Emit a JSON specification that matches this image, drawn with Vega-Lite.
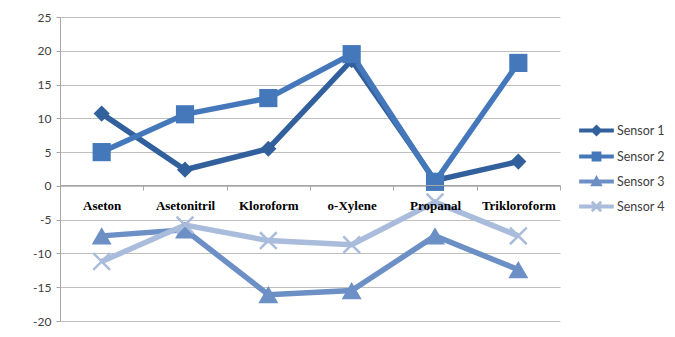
{
  "$schema": "https://vega.github.io/schema/vega-lite/v6.json",
  "width": 500,
  "height": 304,
  "autosize": "none",
  "padding": {"left": 60, "top": 17, "right": 115, "bottom": 16},
  "background": "white",
  "config": {
    "view": {"stroke": null},
    "axis": {"labelFont": "Lato", "labelColor": "#404040", "domainColor": "#A6A6A6", "tickColor": "#A6A6A6", "gridColor": "#BFBFBF"}
  },
  "data": {
    "values": [
      {"solvent": "Aseton", "sensor": "Sensor 1", "value": 10.7},
      {"solvent": "Asetonitril", "sensor": "Sensor 1", "value": 2.4},
      {"solvent": "Kloroform", "sensor": "Sensor 1", "value": 5.5},
      {"solvent": "o-Xylene", "sensor": "Sensor 1", "value": 18.6},
      {"solvent": "Propanal", "sensor": "Sensor 1", "value": 0.8},
      {"solvent": "Trikloroform", "sensor": "Sensor 1", "value": 3.6},
      {"solvent": "Aseton", "sensor": "Sensor 2", "value": 5.0},
      {"solvent": "Asetonitril", "sensor": "Sensor 2", "value": 10.6},
      {"solvent": "Kloroform", "sensor": "Sensor 2", "value": 13.0},
      {"solvent": "o-Xylene", "sensor": "Sensor 2", "value": 19.5},
      {"solvent": "Propanal", "sensor": "Sensor 2", "value": 0.6},
      {"solvent": "Trikloroform", "sensor": "Sensor 2", "value": 18.2},
      {"solvent": "Aseton", "sensor": "Sensor 3", "value": -7.4},
      {"solvent": "Asetonitril", "sensor": "Sensor 3", "value": -6.5},
      {"solvent": "Kloroform", "sensor": "Sensor 3", "value": -16.1},
      {"solvent": "o-Xylene", "sensor": "Sensor 3", "value": -15.5},
      {"solvent": "Propanal", "sensor": "Sensor 3", "value": -7.4},
      {"solvent": "Trikloroform", "sensor": "Sensor 3", "value": -12.4},
      {"solvent": "Aseton", "sensor": "Sensor 4", "value": -11.2},
      {"solvent": "Asetonitril", "sensor": "Sensor 4", "value": -5.8},
      {"solvent": "Kloroform", "sensor": "Sensor 4", "value": -8.1},
      {"solvent": "o-Xylene", "sensor": "Sensor 4", "value": -8.7},
      {"solvent": "Propanal", "sensor": "Sensor 4", "value": -2.4},
      {"solvent": "Trikloroform", "sensor": "Sensor 4", "value": -7.4}
    ]
  },
  "encoding": {
    "x": {
      "field": "solvent", "type": "nominal",
      "sort": ["Aseton", "Asetonitril", "Kloroform", "o-Xylene", "Propanal", "Trikloroform"],
      "scale": {"paddingInner": 0, "paddingOuter": 0},
      "axis": {"title": null, "offset": -136, "labelAngle": 0, "tickBand": "extent", "tickSize": 5, "labelPadding": 9,
               "labelFont": "Liberation Serif", "labelFontWeight": "bold", "labelFontSize": 13, "labelColor": "#000000",
               "domainColor": "#A6A6A6", "labelBaseline": "top", "zindex": 1}
    },
    "y": {
      "field": "value", "type": "quantitative",
      "scale": {"domain": [-20, 25], "nice": false, "zero": false},
      "axis": {"title": null, "values": [-20, -15, -10, -5, 0, 5, 10, 15, 20, 25], "grid": true, "tickSize": 4,
               "labelFontSize": 12, "labelPadding": 5, "domain": true, "labelExpr": "replace(datum.label, '\u2212', '-')"}
    },
    "color": {
      "field": "sensor", "type": "nominal",
      "scale": {"domain": ["Sensor 1", "Sensor 2", "Sensor 3", "Sensor 4"], "range": ["#31609C", "#4578BB", "#6C8FC5", "#AABCDC"]},
      "legend": {
        "title": null, "orient": "none", "legendX": 519, "legendY": 96,
        "labelFont": "Lato", "labelFontSize": 12.5, "labelColor": "#404040", "rowPadding": 0, "labelOffset": 3,
        "symbolSize": 1100,
        "encode": {
          "symbols": {
            "update": {
              "shape": {"signal": "datum.value === 'Sensor 1' ? 'M-1,-0.08H1V0.08H-1Z M0,-0.3L0.3,0L0,0.3L-0.3,0Z' : datum.value === 'Sensor 2' ? 'M-1,-0.08H1V0.08H-1Z M-0.25,-0.25H0.25V0.25H-0.25Z' : datum.value === 'Sensor 3' ? 'M-1,-0.08H1V0.08H-1Z M0,-0.3L0.3,0.24H-0.3Z' : 'M-1,-0.08H1V0.08H-1Z M-0.22,-0.28L0.28,0.22L0.22,0.28L-0.28,-0.22Z M0.22,-0.28L0.28,-0.22L-0.22,0.28L-0.28,0.22Z'"},
              "fill": {"signal": "scale('color', datum.value)"},
              "stroke": {"value": "transparent"},
              "size": {"value": 1100},
              "opacity": {"value": 1}
            }
          }
        }
      }
    }
  },
  "layer": [
    {"mark": {"type": "line", "strokeWidth": 5.5}},
    {
      "transform": [{"filter": "datum.sensor !== 'Sensor 4'"}],
      "mark": {"type": "point", "filled": true, "opacity": 1},
      "encoding": {
        "shape": {"field": "sensor", "type": "nominal", "scale": {"domain": ["Sensor 1", "Sensor 2", "Sensor 3"], "range": ["diamond", "square", "triangle-up"]}, "legend": null},
        "size": {"field": "sensor", "type": "nominal", "scale": {"domain": ["Sensor 1", "Sensor 2", "Sensor 3"], "range": [260, 400, 330]}, "legend": null}
      }
    },
    {
      "transform": [{"filter": "datum.sensor === 'Sensor 4'"}],
      "mark": {"type": "point", "filled": false, "opacity": 1, "strokeWidth": 2.5, "shape": "M-1,-1L1,1M1,-1L-1,1", "size": 280}
    }
  ]
}
